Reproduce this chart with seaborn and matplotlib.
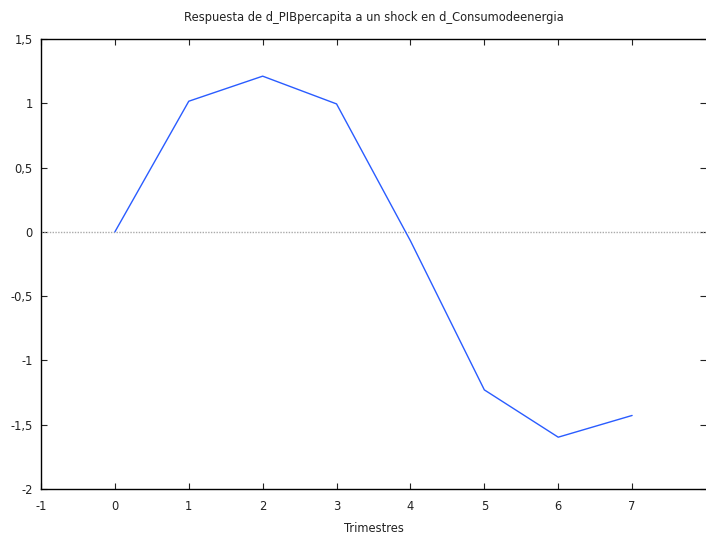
import matplotlib
matplotlib.use("Agg")
import matplotlib.pyplot as plt
import seaborn as sns
import pandas as pd

# Impulse response of GDP per capita to an energy consumption shock
periodos = [0, 1, 2, 3, 4, 5, 6, 7]
respuesta = [0.0, 1.016, 1.211, 0.995, -0.07, -1.229, -1.597, -1.428]
x_ticks = [-1, 0, 1, 2, 3, 4, 5, 6, 7]
y_ticks = [-2, -1.5, -1, -0.5, 0, 0.5, 1, 1.5]

sns.set_style("ticks")
plt.rcParams["font.family"] = ["DejaVu Sans"]
plt.rcParams["font.size"] = 8.3

df = pd.DataFrame({"Trimestres": periodos, "respuesta": respuesta})

W, H = 706, 533
fig = plt.figure(figsize=(W / 100, H / 100), dpi=100)
ax = fig.add_axes([41 / W, 1 - 489 / H, 665 / W, 450 / H])

ax.axhline(0, color="#aaaaaa", lw=1.0, ls=(0, (1, 1)), zorder=1)
sns.lineplot(data=df, x="Trimestres", y="respuesta", ax=ax,
             color="#2a5cff", lw=1.0, zorder=2)

ax.set_xlim(-1, 8)
ax.set_ylim(-2, 1.5)
ax.set_xticks(x_ticks)
ax.set_yticks(y_ticks)
ax.set_xticklabels([str(t) for t in x_ticks])
ax.set_yticklabels([f"{t:g}".replace(".", ",") for t in y_ticks])

for name, s in ax.spines.items():
    s.set_visible(name != "right")
    s.set_linewidth(1.0)
    s.set_color("black")
ax.tick_params(direction="in", length=4, width=0.8, top=True, right=True,
               labelsize=8.3, colors="#222222", pad=6)
ax.tick_params(axis="x", pad=8)

ax.set_ylabel("")
ax.set_xlabel("")
fig.text(373.5 / W, 1 - 528 / H, "Trimestres", ha="center", va="center",
         fontsize=8.3, color="#222222")
fig.text(373.5 / W, 1 - 17 / H,
         "Respuesta de d_PIBpercapita a un shock en d_Consumodeenergia",
         ha="center", va="center", fontsize=8.3, color="#222222")

fig.savefig("out.png", dpi=100)
